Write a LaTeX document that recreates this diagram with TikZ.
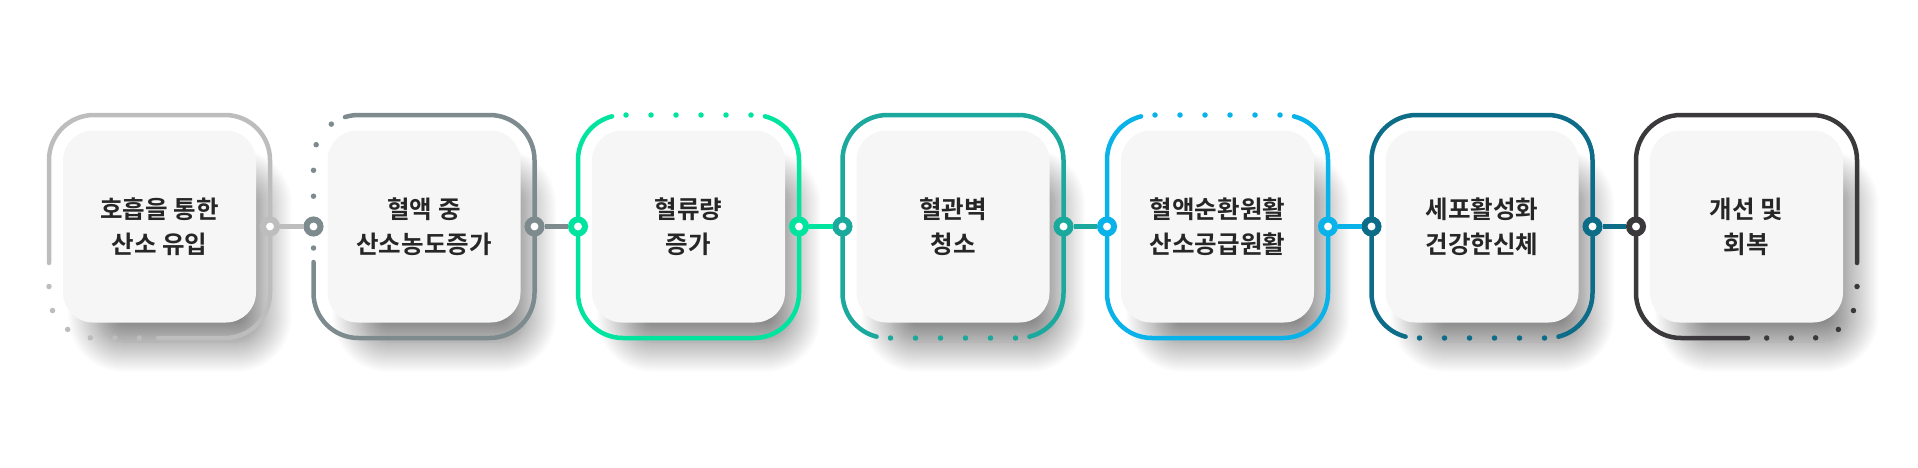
\documentclass[tikz,border=0pt]{standalone}
\usepackage{fontspec}
\newfontfamily\krb{Noto Sans CJK KR Bold}
\usetikzlibrary{shadows.blur}
\definecolor{cA}{HTML}{BDBDBD}
\definecolor{cB}{HTML}{7D8B8E}
\definecolor{cC}{HTML}{00E4A0}
\definecolor{cD}{HTML}{1AA99C}
\definecolor{cE}{HTML}{0AB2EA}
\definecolor{cF}{HTML}{0D6C88}
\definecolor{cG}{HTML}{3B393C}
\definecolor{txt}{HTML}{262626}
\definecolor{innerfill}{HTML}{F6F6F6}
\tikzset{
  innerbox/.style={rectangle, rounded corners=30pt, minimum width=193pt, minimum height=192pt,
    fill=innerfill, draw=none, align=center, text=txt,
    font=\krb\fontsize{24.5}{35}\selectfont,
    blur shadow={shadow scale=0.85, shadow xshift=24pt, shadow yshift=-40pt, shadow blur radius=36pt, shadow blur steps=30, shadow opacity=55}},
  outl/.style={line width=4.5pt, line cap=round},
  dotl/.style={line width=5.5pt, line cap=round, dash pattern=on 0pt off #1},
  ring/.style={circle, minimum size=14pt, inner sep=0pt, line width=6pt, fill=white, draw=#1},
  conn/.style={line width=4.5pt, draw=#1}
}
\begin{document}
\begin{tikzpicture}[x=1pt,y=1pt]
\useasboundingbox (0,0) rectangle (1918,467);
% inner boxes
\node[innerbox] (b1) at (159.5,240.5) {호흡을 통한\\산소 유입};
\node[innerbox] (b2) at (424,240.5) {혈액 중\\산소농도증가};
\node[innerbox] (b3) at (688.5,240.5) {혈류량\\증가};
\node[innerbox] (b4) at (953,240.5) {혈관벽\\청소};
\node[innerbox] (b5) at (1217.5,240.5) {혈액순환원활\\산소공급원활};
\node[innerbox] (b6) at (1482,240.5) {세포활성화\\건강한신체};
\node[innerbox] (b7) at (1746.5,240.5) {개선 및\\회복};
% box 1 outline (bottom-left dotted)
\begin{scope}[shift={(159.5,240.5)}, cA]
\draw[outl] (-110.5,-36.5) -- (-110.5,66.5) arc[start angle=180,end angle=90,radius=45] -- (65.5,111.5) arc[start angle=90,end angle=0,radius=45] -- (110.5,-66.5) arc[start angle=0,end angle=-90,radius=45] -- (-1.5,-111.5);
\draw[dotl=24.5pt] (-110.5,-60) -- (-110.5,-66.5) arc[start angle=180,end angle=270,radius=45] -- (-20,-111.5);
\end{scope}
% box 2 outline (top-left dotted)
\begin{scope}[shift={(424,240.5)}, cB]
\draw[outl] (-110.5,-35.5) -- (-110.5,-66.5) arc[start angle=180,end angle=270,radius=45] -- (65.5,-111.5) arc[start angle=270,end angle=360,radius=45] -- (110.5,66.5) arc[start angle=0,end angle=90,radius=45] -- (-65.5,111.5) arc[start angle=90,end angle=107.5,radius=45];
\draw[dotl=25.9pt] (-110.5,-21.5) -- (-110.5,66.5) arc[start angle=180,end angle=127,radius=45];
\end{scope}
% box 3 and 5 outlines (top dotted)
\foreach \cx/\col in {688.5/cC, 1217.5/cE}{
\begin{scope}[shift={(\cx,240.5)}, \col]
\draw[outl] (76.39,110.16) arc[start angle=76,end angle=0,radius=45] -- (110.5,-66.5) arc[start angle=0,end angle=-90,radius=45] -- (-65.5,-111.5) arc[start angle=270,end angle=180,radius=45] -- (-110.5,66.5) arc[start angle=180,end angle=104,radius=45];
\draw[dotl=25pt] (-62.5,111.5) -- (62.6,111.5);
\end{scope}
}
% box 4 and 6 outlines (bottom dotted)
\foreach \cx/\col in {953/cD, 1482/cF}{
\begin{scope}[shift={(\cx,240.5)}, \col]
\draw[outl] (76.39,-110.16) arc[start angle=-76,end angle=0,radius=45] -- (110.5,66.5) arc[start angle=0,end angle=90,radius=45] -- (-65.5,111.5) arc[start angle=90,end angle=180,radius=45] -- (-110.5,-66.5) arc[start angle=180,end angle=256,radius=45];
\draw[dotl=25pt] (-62.5,-111.5) -- (62.6,-111.5);
\end{scope}
}
% box 7 outline (bottom-right dotted)
\begin{scope}[shift={(1746.5,240.5)}, cG]
\draw[outl] (110.5,-36.5) -- (110.5,66.5) arc[start angle=0,end angle=90,radius=45] -- (-65.5,111.5) arc[start angle=90,end angle=180,radius=45] -- (-110.5,-66.5) arc[start angle=180,end angle=270,radius=45] -- (1.5,-111.5);
\draw[dotl=24.5pt] (110.5,-60) -- (110.5,-66.5) arc[start angle=0,end angle=-90,radius=45] -- (20,-111.5);
\end{scope}
% ring nodes
\node[ring=cA] (r1) at (270,240.5) {};
\node[ring=cB] (l2) at (313.5,240.5) {};
\node[ring=cB] (r2) at (534.5,240.5) {};
\node[ring=cC] (l3) at (578,240.5) {};
\node[ring=cC] (r3) at (799,240.5) {};
\node[ring=cD] (l4) at (842.5,240.5) {};
\node[ring=cD] (r4) at (1063.5,240.5) {};
\node[ring=cE] (l5) at (1107,240.5) {};
\node[ring=cE] (r5) at (1328,240.5) {};
\node[ring=cF] (l6) at (1371.5,240.5) {};
\node[ring=cF] (r6) at (1592.5,240.5) {};
\node[ring=cG] (l7) at (1636,240.5) {};
% connectors
\draw[conn=cA] (r1.east) -- (l2.west);
\draw[conn=cB] (r2.east) -- (l3.west);
\draw[conn=cC] (r3.east) -- (l4.west);
\draw[conn=cD] (r4.east) -- (l5.west);
\draw[conn=cE] (r5.east) -- (l6.west);
\draw[conn=cF] (r6.east) -- (l7.west);
\end{tikzpicture}
\end{document}
